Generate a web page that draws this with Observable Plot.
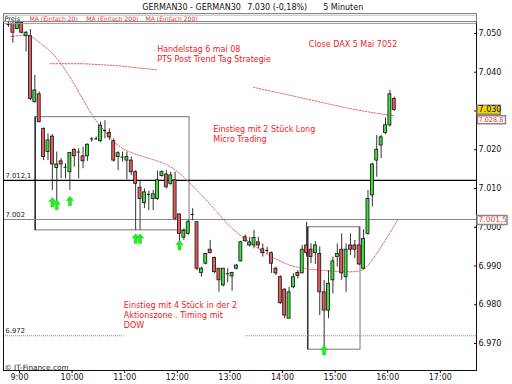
<!DOCTYPE html>
<html><head><meta charset="utf-8">
<script src="https://cdn.jsdelivr.net/npm/d3@7"></script>
<script src="https://cdn.jsdelivr.net/npm/@observablehq/plot@0.6"></script>
<style>body{margin:0;background:#fff}svg{display:block}</style>
</head><body><div id="chart"></div>
<script>
// ---- data (5-minute bars, first bar starts 08:45) ----
const startTime = "08:45";
const opens  = [7052.3,7052.5,7051.2,7052.7,7049.3,7049.3,7032.3,7034.3,7025.4,7019.4,7023.4,7015.3,7017.0,7015.5,7014.2,7020.0,7019.4,7018.3,7018.3,7022.8,7022.8,7022.2,7025.0,7024.3,7022.2,7018.1,7018.1,7017.2,7017.2,7014.2,7010.2,7006.2,7008.5,7007.3,7007.3,7013.2,7013.6,7011.2,7012.1,7003.3,6997.3,6998.3,7003.3,7001.3,6988.2,6990.6,6994.2,6992.1,6989.3,6985.0,6988.0,6987.3,6989.3,6991.2,6997.4,6995.3,6995.3,6996.1,6994.3,6994.0,6993.3,6989.3,6987.1,6983.9,6976.4,6984.5,6988.2,6988.1,6995.3,6994.2,6993.3,6993.1,6983.2,6978.5,6986.3,6992.3,6994.2,6987.1,6995.3,6995.3,6995.3,6989.3,6998.3,7008.2,7017.2,7021.1,7024.3,7026.3,7033.1];
const highs  = [7052.9,7052.8,7052.9,7052.9,7050.5,7051.0,7039.2,7034.9,7025.6,7024.1,7023.9,7019.4,7017.7,7016.4,7019.2,7020.2,7020.2,7020.7,7021.5,7023.2,7023.3,7027.1,7027.5,7025.4,7022.8,7019.5,7019.4,7019.4,7018.1,7014.6,7011.9,7009.9,7009.3,7009.5,7014.5,7014.6,7014.6,7014.2,7014.2,7003.5,6999.6,7001.9,7004.8,7001.3,6989.7,6993.2,6996.6,6992.3,6989.3,6989.3,6989.3,6988.4,6990.4,6996.4,6998.0,6997.4,6999.2,6997.4,6995.7,6994.8,6993.6,6989.7,6987.5,6984.1,6984.5,6988.0,6988.8,6995.3,7001.3,6995.7,6996.3,6994.9,6986.3,6988.8,6992.3,6995.7,6998.3,6995.7,6998.3,6996.6,7000.0,6999.4,7009.5,7016.5,7023.7,7023.7,7028.2,7035.3,7033.6];
const lows   = [7051.6,7047.5,7051.0,7049.9,7045.2,7032.7,7032.0,7027.0,7017.2,7017.2,7009.5,7005.2,7012.5,7012.5,7009.5,7015.5,7012.5,7015.1,7017.0,7021.9,7022.5,7021.9,7022.8,7022.4,7016.8,7014.6,7016.8,7012.2,7013.3,6999.2,6999.2,7004.8,7004.3,7004.3,7006.9,7012.9,7009.9,7010.8,7001.7,6994.4,6996.6,6997.9,7001.7,6988.8,6987.1,6990.3,6993.1,6988.0,6983.2,6984.6,6985.7,6983.5,6989.0,6991.0,6996.1,6994.9,6994.4,6994.4,6992.3,6993.1,6988.1,6987.5,6980.1,6976.4,6976.4,6984.1,6986.7,6988.0,6992.3,6990.6,6990.4,6977.2,6968.6,6976.4,6982.8,6989.7,6986.3,6983.2,6992.7,6991.9,6990.1,6989.0,6997.9,7005.2,7012.9,7017.7,7023.9,7025.8,7029.9];
const closes = [7052.3,7050.2,7052.7,7050.2,7050.2,7033.1,7035.3,7027.1,7018.1,7022.4,7016.2,7016.2,7016.2,7015.5,7019.2,7018.3,7019.4,7017.0,7021.3,7022.8,7022.8,7026.2,7025.0,7023.2,7017.2,7019.1,7018.1,7018.1,7014.2,7011.2,7007.3,7009.0,7008.5,7008.5,7012.1,7014.2,7010.3,7013.4,7002.2,6998.3,6999.0,7001.3,7003.3,6989.3,6989.3,6993.1,6993.3,6988.4,6986.3,6989.3,6988.0,6988.2,6990.1,6996.1,6996.4,6996.1,6997.2,6995.3,6993.3,6994.0,6990.6,6988.1,6980.4,6977.2,6983.2,6987.1,6987.4,6994.2,6993.3,6992.3,6995.3,6983.2,6978.5,6985.4,6991.2,6993.1,6988.1,6994.2,6994.2,6994.2,6990.4,6997.0,7007.3,7016.2,7020.0,7023.2,7026.3,7034.3,7030.3];

// moving averages (traced points)
const ma20Times  = ["08:50","09:07","09:13","09:27","09:39","09:55","10:10","10:24","10:32","10:47","11:03","11:29","11:48","12:04","12:15","12:30","12:44","13:01","13:20","13:35","13:48","14:03","14:19","14:46","15:21","15:32","15:43","16:11"];
const ma20Values = [7049.2,7049.7,7049.5,7046.9,7044.8,7039.9,7034.0,7028.3,7026.3,7021.9,7019.4,7017.7,7016.4,7013.8,7011.2,7007.8,7004.3,6999.7,6996.6,6994.0,6992.3,6990.6,6989.4,6988.8,6988.4,6988.7,6991.4,7001.7];
const ma200aTimes  = ["09:35","10:13","10:51","11:37"];
const ma200aValues = [7042.2,7042.2,7041.7,7040.6];
const ma200bTimes  = ["13:27","14:28","15:25","16:07"];
const ma200bValues = [7036.1,7033.1,7030.1,7028.8];

// horizontal levels
const levelValues = [7012.1, 7002, 6972];
const levelLabels = ["7.012,1", "7.002", "6.972"];
// zones (boxes)
const zoneFrom = ["09:18","14:29"], zoneTo = ["12:14","15:29"];
const zoneTop = [7028.4, 7000.0], zoneBottom = [6999.2, 6968.4];
// entry arrows
const arrowTimes  = ["09:35","09:40","09:55","11:10","11:15","12:00","14:45"];
const arrowPrices = [7007.7,7007.0,7008.0,6998.3,6998.3,6996.6,6969.5];
// notes
const noteTimes  = ["11:37","14:30","12:41","10:59"];
const notePrices = [7047.1,7048.4,7026.3,6981.0];
const noteTexts  = ["Handelstag 6 mai 08\nPTS Post Trend Tag Strategie","Close DAX 5 Mai 7052","Einstieg mit 2 Stück Long\nMicro Trading","Einstieg mit 4 Stück in der 2\nAktionszone . Timing mit\nDOW"];
// legend band
const legendLabels = ["MA (Einfach 20)", "MA (Einfach 200)", "MA (Einfach 200)"];
const legendOffsets = [26, 82.7, 142];
// axis ticks
const xTicks = [9,10,11,12,13,14,15,16,17];
const yTicks = [6970,6980,6990,7000,7010,7020,7030,7040,7050];
const lastClose = 7030.3, ma20Last = 7001.5, ma200Last = 7028.8;

// ---- helpers ----
const toH = s => { const [h,m] = s.split(":").map(Number); return h + m/60; };
const t0 = toH(startTime);
const candles = opens.map((o,i) => ({t: t0 + (i*5 + 2.5)/60, o, h: highs[i], l: lows[i], c: closes[i]}));
const bw = 1.7/60;
const ma20 = ma20Times.map((t,i) => ({t: toH(t), v: ma20Values[i]}));
const ma200a = ma200aTimes.map((t,i) => ({t: toH(t), v: ma200aValues[i]}));
const ma200b = ma200bTimes.map((t,i) => ({t: toH(t), v: ma200bValues[i]}));
const levels = levelValues.map((v,i) => ({v, label: levelLabels[i]}));
const zones = zoneFrom.map((f,i) => ({x1: toH(f), x2: toH(zoneTo[i]), y1: zoneTop[i], y2: zoneBottom[i]}));
const arrows = arrowTimes.map((t,i) => ({t: toH(t) + 2.5/60, v: arrowPrices[i]}));
const notes = noteTimes.map((t,i) => ({t: toH(t), v: notePrices[i], text: noteTexts[i]}));
const xDomain = [8.696, 17.688];
const yDomain = [6963.03, 7055.16];
const loc = d3.formatLocale({decimal: ",", thousands: ".", grouping: [3]});
const fmtP = loc.format(",d");
const fmt1 = loc.format(",.1f");
const RED = "#e85a5e", GREEN = "#3fdc3f", MA = "#e06060", NOTE = "#f02020";
const boxSym = (w, h) => ({draw(ctx){ ctx.rect(-w/2, -h/2, w, h); }});
const arrowSym = {draw(ctx){ ctx.moveTo(0,0); ctx.lineTo(3.6,4.2); ctx.lineTo(1.5,4.2); ctx.lineTo(1.5,9.5); ctx.lineTo(-1.5,9.5); ctx.lineTo(-1.5,4.2); ctx.lineTo(-3.6,4.2); ctx.closePath(); }};
const F = "DejaVu Sans";
const topText = (s, dx, dy, size, fill) => Plot.text([s], {text: d => d, frameAnchor: "top-left", dx, dy, lineAnchor: "bottom", textAnchor: "start", fontSize: size, fill});

const chart = Plot.plot({
  width: 512, height: 384,
  marginLeft: 3, marginRight: 36, marginTop: 13, marginBottom: 14,
  style: {fontFamily: F, fontSize: "8px", background: "#fff", color: "#111"},
  x: {type: "linear", domain: xDomain},
  y: {domain: yDomain},
  marks: [
    // zone boxes
    Plot.rect(zones, {x1: "x1", x2: "x2", y1: "y1", y2: "y2", fill: "none", stroke: "#777", strokeWidth: 1}),
    Plot.ruleX(zones, {x: "x1", y1: "y1", y2: "y2", stroke: "#000", strokeWidth: 1}),
    // levels
    Plot.ruleY([levels[0]], {y: "v", stroke: "#000", strokeWidth: 1.2}),
    Plot.ruleY([levels[1]], {y: "v", stroke: "#888", strokeWidth: 1.2}),
    Plot.ruleY([levels[2]], {y: "v", x1: xDomain[0], x2: toH("10:59"), stroke: "#888", strokeWidth: 1.2, strokeDasharray: "1,1"}),
    Plot.ruleY([levels[2]], {y: "v", x1: toH("13:18"), x2: xDomain[1], stroke: "#888", strokeWidth: 1.2, strokeDasharray: "1,1"}),
    Plot.text(levels, {y: "v", text: "label", frameAnchor: "left", dx: 2, dy: -2.5, lineAnchor: "bottom", textAnchor: "start", fontSize: 6.8, fill: "#222"}),
    // moving averages
    Plot.line(ma20, {x: "t", y: "v", stroke: MA, strokeWidth: 1, strokeDasharray: "1.5,1.5", curve: "basis"}),
    Plot.line(ma200a, {x: "t", y: "v", stroke: MA, strokeWidth: 1, strokeDasharray: "1.5,1.5"}),
    Plot.line(ma200b, {x: "t", y: "v", stroke: MA, strokeWidth: 1, strokeDasharray: "1.5,1.5", curve: "basis"}),
    // candles
    Plot.ruleX(candles, {x: "t", y1: "l", y2: "h", stroke: "#333", strokeWidth: 1}),
    Plot.rect(candles.filter(d => d.o !== d.c), {x1: d => d.t - bw, x2: d => d.t + bw, y1: "o", y2: "c", fill: d => d.c > d.o ? GREEN : RED, stroke: "#111", strokeWidth: 0.8}),
    Plot.ruleY(candles.filter(d => d.o === d.c), {y: "o", x1: d => d.t - bw, x2: d => d.t + bw, stroke: "#111", strokeWidth: 1}),
    // arrows
    Plot.dot(arrows, {x: "t", y: "v", symbol: arrowSym, fill: "#22ee22", stroke: "#11cc11", strokeWidth: 0.5}),
    // notes
    Plot.text(notes, {x: "t", y: "v", text: "text", textAnchor: "start", lineAnchor: "top", lineHeight: 1.25, fontSize: 8, fill: NOTE}),
    // frame + legend band
    Plot.frame({stroke: "#111"}),
    Plot.frame({insetBottom: 349, fill: "#fff", stroke: "#888"}),
    Plot.frame({insetTop: 1.2, insetBottom: 354.8, fill: "#bbb"}),
    Plot.frame({insetTop: 9.4, insetBottom: 346.6, fill: "#999"}),
    topText("Preis", 1, 7, 6.5, "#222"),
    ...legendLabels.map((s, i) => topText(s, legendOffsets[i], 7, 6.1, "#ee3333")),
    // header
    topText("GERMAN30 - GERMAN30", 138.7, -3.5, 8, "#111"),
    topText("7.030 (-0,18%)", 243.7, -3.5, 8, "#111"),
    topText("5 Minuten", 319.7, -3.5, 8, "#111"),
    Plot.text(["© IT-Finance.com"], {text: d => d, frameAnchor: "bottom-left", dx: 1, dy: -0.5, lineAnchor: "bottom", textAnchor: "start", fontSize: 7.3, fill: "#222"}),
    // axes
    Plot.axisX(xTicks, {anchor: "bottom", tickSize: 3, tickPadding: 1, tickFormat: d => d + ":00", fontSize: 8}),
    Plot.axisY(yTicks, {anchor: "right", tickSize: 3, tickPadding: 2, dx: -3, tickFormat: fmtP, fontSize: 8}),
    // right value labels
    Plot.dot([ma200Last], {y: d => d, frameAnchor: "right", dx: 15, dy: 4, symbol: boxSym(28, 8), fill: "#fff", stroke: "#888"}),
    Plot.text([ma200Last], {y: d => d, text: d => fmt1(d), frameAnchor: "right", dx: 2, dy: 4.5, textAnchor: "start", fontSize: 6.5, fill: "#ee3333"}),
    Plot.dot([lastClose], {y: d => d, frameAnchor: "right", dx: 12.2, symbol: boxSym(23, 9), fill: "#f7d300", stroke: "#888"}),
    Plot.text([lastClose], {y: d => d, text: d => fmtP(d), frameAnchor: "right", dx: 2, textAnchor: "start", fontSize: 8, fill: "#111"}),
    Plot.dot([ma20Last], {y: d => d, frameAnchor: "right", dx: 15.5, dy: -1.5, symbol: boxSym(30, 9), fill: "#fff", stroke: "#888"}),
    Plot.text([ma20Last], {y: d => d, text: d => fmt1(d), frameAnchor: "right", dx: 2, dy: -1.5, textAnchor: "start", fontSize: 7.5, fill: "#ee3333"})
  ]
});
document.getElementById("chart").appendChild(chart);
</script>
</body></html>
